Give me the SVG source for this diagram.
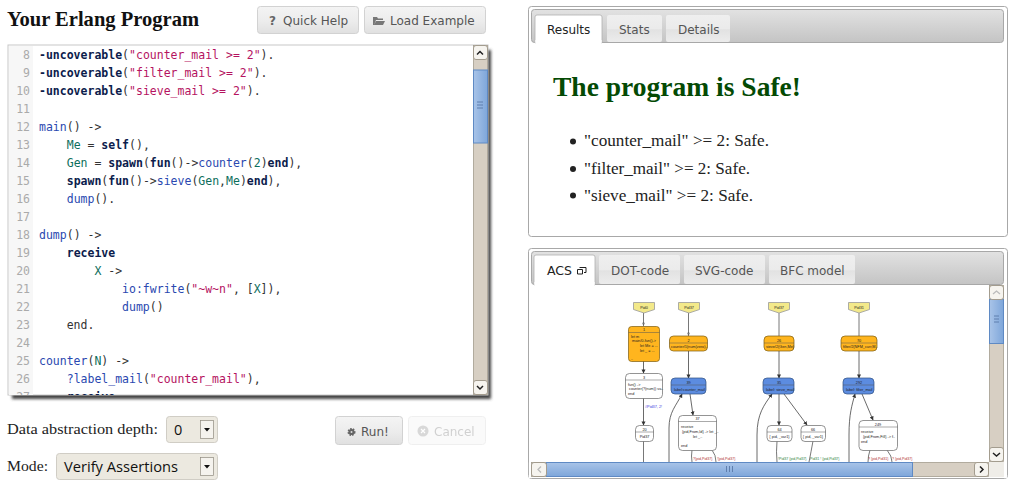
<svg xmlns="http://www.w3.org/2000/svg" width="1015" height="487" viewBox="0 0 1015 487">
<style>
text{white-space:pre}
.mono{font:11.5px "DejaVu Sans Mono",monospace;fill:#333}
.num{font:11.5px "DejaVu Sans Mono",monospace;fill:#aaa;text-anchor:end}
.k{font-weight:bold;fill:#0c1c4c}.a{fill:#2a48b0}.s{fill:#b5135f}.v{fill:#0d6e5c}
.serif{font-family:"Liberation Serif",serif;fill:#222}
.ui{font-family:"DejaVu Sans",sans-serif;font-size:12px;fill:#555}
.btn{fill:url(#btn);stroke:#d2d2d2}
.tab{fill:url(#tab);stroke:none}
.sel{fill:#ece9e0;stroke:#d0cdc5}
.track{fill:#d7cfc3;stroke:#a39c8e;stroke-width:.8}
.sb{fill:#f6f4ef;stroke:#a39c8e}
.panel{fill:#fff;stroke:#a8a8a8}
.head{fill:url(#head);stroke:#a8a8a8}
.e{fill:none;stroke:#555;stroke-width:.8}
.ea{fill:none;stroke:#444;stroke-width:.8;marker-end:url(#ah)}
.flag{fill:#f3e98a;stroke:#999;stroke-width:.8}
.o{fill:#ffb51e;stroke:#7a5a10;stroke-width:.7}
.b{fill:#5c8ce0;stroke:#30507f;stroke-width:.7}
.w{fill:#fff;stroke:#666;stroke-width:.7}
.d{stroke:#555;stroke-width:.5}
.t{font:3.8px "Liberation Sans",sans-serif;fill:#222}
.c{text-anchor:middle}
.lr{font:3.6px "Liberation Sans",sans-serif;fill:#b03030}
.lg{font:3.6px "Liberation Sans",sans-serif;fill:#2c8040}
.lb{font:3.8px "Liberation Sans",sans-serif;fill:#3a3ae0}
</style>
<defs>
<linearGradient id="btn" x1="0" y1="0" x2="0" y2="1"><stop offset="0" stop-color="#f4f4f4"/><stop offset=".55" stop-color="#ececec"/><stop offset="1" stop-color="#e0e0e0"/></linearGradient>
<linearGradient id="tab" x1="0" y1="0" x2="0" y2="1"><stop offset="0" stop-color="#efefef"/><stop offset=".5" stop-color="#ebebeb"/><stop offset=".55" stop-color="#e2e2e2"/><stop offset="1" stop-color="#ececec"/></linearGradient>
<linearGradient id="head" x1="0" y1="0" x2="0" y2="1"><stop offset="0" stop-color="#e2e2e2"/><stop offset="1" stop-color="#c4c4c4"/></linearGradient>
<linearGradient id="thv" x1="0" y1="0" x2="1" y2="0"><stop offset="0" stop-color="#a9c4e8"/><stop offset="1" stop-color="#7ea6da"/></linearGradient>
<linearGradient id="thh" x1="0" y1="0" x2="0" y2="1"><stop offset="0" stop-color="#a9c4e8"/><stop offset="1" stop-color="#7ea6da"/></linearGradient>
<filter id="blur" x="-5%" y="-5%" width="110%" height="110%"><feGaussianBlur stdDeviation="1.400"/></filter>
<clipPath id="code"><rect x="9" y="46" width="464" height="349"/></clipPath>
<marker id="ah" markerWidth="5" markerHeight="5" refX="3.6" refY="2" orient="auto" markerUnits="userSpaceOnUse"><path d="M0 0L4 2L0 4z" fill="#333"/></marker>
</defs>
<rect width="1015" height="487" fill="#fff"/>

<g id="toolbar">
<text class="serif" x="7" y="26" font-size="21" font-weight="bold" textLength="192" lengthAdjust="spacingAndGlyphs" style="fill:#111">Your Erlang Program</text>
<g id="quick-help"><rect class="btn" x="257.500" y="6.500" width="101" height="27" rx="3"/><text class="ui" x="269" y="25" font-weight="bold" style="fill:#666">?</text><text class="ui" x="283" y="25">Quick Help</text></g>
<g id="load-example"><rect class="btn" x="364.500" y="6.500" width="121" height="27" rx="3"/><path d="M373 25V17h4l1 1.500h5v1.500h-7l-2 5zM374 25l2-4h9l-2 4z" fill="#777"/><text class="ui" x="390" y="25">Load Example</text></g>
</g>

<g id="editor">
<rect x="12" y="50" width="479" height="349" fill="#444" filter="url(#blur)"/>
<rect x="8" y="45" width="480" height="350" fill="#fff" stroke="#c8c8c8"/>
<rect x="9" y="46" width="24" height="349" fill="#f7f7f7"/>
<g clip-path="url(#code)">
<text class="num" x="30" y="58.500">8</text><text class="num" x="30" y="76.500">9</text><text class="num" x="30" y="94.500">10</text><text class="num" x="30" y="112.500">11</text><text class="num" x="30" y="130.500">12</text><text class="num" x="30" y="148.500">13</text><text class="num" x="30" y="166.500">14</text><text class="num" x="30" y="184.500">15</text><text class="num" x="30" y="202.500">16</text><text class="num" x="30" y="220.500">17</text><text class="num" x="30" y="238.500">18</text><text class="num" x="30" y="256.500">19</text><text class="num" x="30" y="274.500">20</text><text class="num" x="30" y="292.500">21</text><text class="num" x="30" y="310.500">22</text><text class="num" x="30" y="328.500">23</text><text class="num" x="30" y="346.500">24</text><text class="num" x="30" y="364.500">25</text><text class="num" x="30" y="382.500">26</text><text class="num" x="30" y="400.500">27</text>
<text class="mono" x="39" y="58.500"><tspan class="k">-uncoverable</tspan>(<tspan class="s">"counter_mail &gt;= 2"</tspan>).</text>
<text class="mono" x="39" y="76.500"><tspan class="k">-uncoverable</tspan>(<tspan class="s">"filter_mail &gt;= 2"</tspan>).</text>
<text class="mono" x="39" y="94.500"><tspan class="k">-uncoverable</tspan>(<tspan class="s">"sieve_mail &gt;= 2"</tspan>).</text>
<text class="mono" x="39" y="130.500"><tspan class="a">main</tspan>() -&gt;</text>
<text class="mono" x="39" y="148.500">    <tspan class="v">Me</tspan> = <tspan class="k">self</tspan>(),</text>
<text class="mono" x="39" y="166.500">    <tspan class="v">Gen</tspan> = <tspan class="k">spawn</tspan>(<tspan class="k">fun</tspan>()-&gt;<tspan class="a">counter</tspan>(<tspan class="v">2</tspan>)<tspan class="k">end</tspan>),</text>
<text class="mono" x="39" y="184.500">    <tspan class="k">spawn</tspan>(<tspan class="k">fun</tspan>()-&gt;<tspan class="a">sieve</tspan>(<tspan class="v">Gen</tspan>,<tspan class="v">Me</tspan>)<tspan class="k">end</tspan>),</text>
<text class="mono" x="39" y="202.500">    <tspan class="a">dump</tspan>().</text>
<text class="mono" x="39" y="238.500"><tspan class="a">dump</tspan>() -&gt;</text>
<text class="mono" x="39" y="256.500">    <tspan class="k">receive</tspan></text>
<text class="mono" x="39" y="274.500">        <tspan class="v">X</tspan> -&gt;</text>
<text class="mono" x="39" y="292.500">            <tspan class="a">io:fwrite</tspan>(<tspan class="s">"~w~n"</tspan>, [<tspan class="v">X</tspan>]),</text>
<text class="mono" x="39" y="310.500">            <tspan class="a">dump</tspan>()</text>
<text class="mono" x="39" y="328.500">    end.</text>
<text class="mono" x="39" y="364.500"><tspan class="a">counter</tspan>(<tspan class="v">N</tspan>) -&gt;</text>
<text class="mono" x="39" y="382.500">    <tspan class="a">?label_mail</tspan>(<tspan class="s">"counter_mail"</tspan>),</text>
<text class="mono" x="39" y="400.500">    <tspan class="k">receive</tspan></text>
</g>
<rect class="track" x="473.500" y="45.500" width="14" height="349"/>
<rect x="473.500" y="70" width="14" height="73" fill="url(#thv)" stroke="#5f8ac4"/>
<path d="M477 102h6M477 105h6M477 108h6" stroke="#5f7fae" fill="none"/>
<rect class="sb" x="473.500" y="45.500" width="14" height="14" rx="2.500"/>
<path d="M477 54.500l3-3 3 3" fill="none" stroke="#222" stroke-width="1.500"/>
<rect class="sb" x="473.500" y="380.500" width="14" height="14" rx="2.500"/>
<path d="M477 386l3 3 3-3" fill="none" stroke="#222" stroke-width="1.500"/>
</g>

<g id="options">
<text class="serif" x="7" y="434" font-size="15.500" textLength="151" lengthAdjust="spacingAndGlyphs">Data abstraction depth:</text>
<g id="depth-select"><rect class="sel" x="166.500" y="416.500" width="51" height="26" rx="3"/><text x="174" y="435" font-family="'Open Sans',sans-serif" font-size="14.500" fill="#111">0</text><rect x="200.500" y="420.500" width="13" height="18" fill="#f5f3ee" stroke="#8f8a7f" stroke-width=".7"/><path d="M204 428h6l-3 3.500z" fill="#111"/></g>
<text class="serif" x="7" y="471" font-size="15.500" textLength="41" lengthAdjust="spacingAndGlyphs">Mode:</text>
<g id="mode-select"><rect class="sel" x="56.500" y="453.500" width="161" height="26" rx="3"/><text x="64" y="472" font-family="'Open Sans',sans-serif" font-size="14.500" fill="#111" textLength="114" lengthAdjust="spacingAndGlyphs">Verify Assertions</text><rect x="200.500" y="457.500" width="13" height="18" fill="#f5f3ee" stroke="#8f8a7f" stroke-width=".7"/><path d="M204 465h6l-3 3.500z" fill="#111"/></g>
<g id="run"><rect class="btn" x="335.500" y="416.500" width="67" height="28" rx="3"/><circle cx="351.500" cy="432" r="3" fill="#666" stroke="#666" stroke-width="2" stroke-dasharray="1.500 1"/><circle cx="351.500" cy="432" r="1" fill="#ddd"/><text class="ui" x="361" y="436" font-size="12.500">Run!</text></g>
<g id="cancel" opacity=".45"><rect x="408.500" y="416.500" width="77" height="28" rx="3" fill="#f4f4f4" stroke="#ddd"/><circle cx="423" cy="431" r="5.500" fill="#aaa"/><path d="M421 429l4 4M425 429l-4 4" stroke="#fff" stroke-width="1.200"/><text class="ui" x="434" y="436" style="fill:#999">Cancel</text></g>
</g>

<g id="results-panel">
<rect class="panel" x="528.500" y="6.500" width="479" height="230" rx="3"/>
<rect class="head" x="531.500" y="9.500" width="472" height="33" rx="3"/>
<path d="M535 43V17q0-2 2-2h63q2 0 2 2v26z" fill="#fff" stroke="#b0b0b0" stroke-width=".8"/>
<rect x="535.400" y="40" width="66.200" height="4" fill="#fff"/>
<rect class="tab" x="607" y="15" width="55" height="27" rx="2"/>
<rect class="tab" x="666" y="15" width="64" height="27" rx="2"/>
<text class="ui" x="547" y="34" style="fill:#222">Results</text>
<text class="ui" x="619" y="34">Stats</text>
<text class="ui" x="678" y="34">Details</text>
<text class="serif" x="553" y="96" font-size="27" font-weight="bold" textLength="248" lengthAdjust="spacingAndGlyphs" style="fill:#044a04">The program is Safe!</text>
<circle cx="573" cy="141.500" r="3" fill="#222"/><text class="serif" x="584" y="146" font-size="16.500" textLength="185" lengthAdjust="spacingAndGlyphs">"counter_mail" &gt;= 2: Safe.</text>
<circle cx="573" cy="169" r="3" fill="#222"/><text class="serif" x="584" y="174" font-size="16.500" textLength="166" lengthAdjust="spacingAndGlyphs">"filter_mail" &gt;= 2: Safe.</text>
<circle cx="573" cy="195.500" r="3" fill="#222"/><text class="serif" x="584" y="201" font-size="16.500" textLength="169" lengthAdjust="spacingAndGlyphs">"sieve_mail" &gt;= 2: Safe.</text>
</g>

<g id="acs-panel">
<rect class="panel" x="528.500" y="248.500" width="479" height="230" rx="3"/>
<rect class="head" x="531.500" y="251.500" width="472" height="33" rx="3"/>
<path d="M534 285V257q0-2 2-2h57q2 0 2 2v28z" fill="#fff" stroke="#b0b0b0" stroke-width=".8"/>
<rect x="534.400" y="282" width="60.200" height="4" fill="#fff"/>
<rect class="tab" x="599" y="255" width="81" height="29" rx="2"/>
<rect class="tab" x="684" y="255" width="81" height="29" rx="2"/>
<rect class="tab" x="769" y="255" width="86" height="29" rx="2"/>
<text class="ui" x="547" y="275" style="fill:#222;font-size:12.500px">ACS</text>
<path d="M579.500 267.500h6.500v5h-2M577.500 269.500h5v4.500h-5z" fill="none" stroke="#222" stroke-width="1"/>
<text class="ui" x="611" y="275">DOT-code</text>
<text class="ui" x="695" y="275">SVG-code</text>
<text class="ui" x="780" y="275">BFC model</text>
</g>

<g id="connectors">
<path class="e" d="M643.500 313V326"/><circle cx="643.500" cy="323.500" r="1" fill="none" stroke="#555" stroke-width=".5"/>
<path class="e" d="M688.500 313V336"/><circle cx="688.500" cy="333.500" r="1" fill="none" stroke="#555" stroke-width=".5"/>
<path class="e" d="M779 313V336"/><path class="e" d="M859 313V336"/>
<path class="ea" d="M643.500 361V373"/>
<path class="ea" d="M643.500 398V425"/>
<path class="e" d="M643.500 441V462"/>
<path class="ea" d="M688.500 351V378"/>
<path class="ea" d="M690 394L693 415"/>
<path class="ea" d="M669 462V428C669 412 676 406 682 394"/>
<path class="e" d="M692 450Q691 456 692 462"/><path class="e" d="M712 450Q716 455 716 462"/>
<path class="ea" d="M779 351V378"/>
<path class="ea" d="M779 394V425"/>
<path class="ea" d="M784 394L807 425"/>
<path class="ea" d="M757 462V435C757 414 764 405 772 394"/>
<path class="e" d="M777 441Q776 452 777 462"/><path class="e" d="M813 441Q811 452 809 462"/>
<path class="ea" d="M859 351V378"/>
<path class="ea" d="M862 394L873 420"/>
<path class="ea" d="M849 462V435C849 414 852 405 855 394"/>
<path class="e" d="M870 450Q868 456 868 462"/><path class="e" d="M887 450Q892 456 892 462"/>
<text class="lb" x="645" y="408">#Pid37, 2!</text>
<text class="lr" x="693" y="460">?{pid,Pid37}</text><text class="lr" x="717" y="460">!{pid,Pid37}</text>
<text class="lg" x="778" y="460">!Pid37 {pid,Pid37}</text><text class="lg" x="810" y="460">Pid31 ! {pid,Pid37}</text>
<text class="lr" x="868" y="460">? {pid,Pid31}</text><text class="lr" x="892" y="460">? {pid,Pid37}</text>
</g>

<g id="pid0"><path class="flag" d="M633.500 302.500h21v7l-10.500 3.500l-10.500-3.500z"/><text class="t c" x="644" y="308.500">Pid0</text></g>
<g id="pid37a"><path class="flag" d="M678.500 302.500h21v7l-10.500 3.500l-10.500-3.500z"/><text class="t c" x="689" y="308.500">Pid37</text></g>
<g id="pid37b"><path class="flag" d="M768.500 302.500h21v7l-10.500 3.500l-10.500-3.500z"/><text class="t c" x="779" y="308.500">Pid37</text></g>
<g id="pid31"><path class="flag" d="M848.500 302.500h21v7l-10.500 3.500l-10.500-3.500z"/><text class="t c" x="859" y="308.500">Pid31</text></g>

<g id="node-1"><rect class="o" x="628.500" y="326.500" width="31" height="35" rx="3"/><path class="d" d="M628.500 332.500h31"/><text class="t c" x="644" y="331">1</text><text class="t" x="631" y="338">let m</text><text class="t" x="632" y="342">main/0-fun()-&gt;</text><text class="t" x="640" y="347">let Me = ...</text><text class="t" x="640" y="352">let _ = ...</text><text class="t" x="631" y="360">..</text></g>
<g id="node-2"><rect class="o" x="669.500" y="336" width="38" height="15" rx="4"/><path class="d" d="M669.500 343h38"/><text class="t c" x="688.500" y="341.500">2</text><text class="t" x="671" y="348">counter/1(num(zero)..</text></g>
<g id="node-26"><rect class="o" x="764" y="336" width="30" height="15" rx="4"/><path class="d" d="M764 343h30"/><text class="t c" x="779" y="341.500">26</text><text class="t" x="766" y="348">sieve/2(Gen,Me)</text></g>
<g id="node-70"><rect class="o" x="841" y="336" width="36" height="15" rx="4"/><path class="d" d="M841 343h36"/><text class="t c" x="859" y="341.500">70</text><text class="t" x="843" y="348">filter/2(NFM_curr,M..</text></g>
<g id="node-39"><rect class="b" x="671" y="378" width="35" height="16" rx="4"/><path class="d" d="M671 385h35"/><text class="t c" x="688.500" y="383.500">39</text><text class="t" x="674" y="391">label:counter_mail</text></g>
<g id="node-35"><rect class="b" x="763" y="378" width="31" height="16" rx="4"/><path class="d" d="M763 385h31"/><text class="t c" x="779" y="383.500">35</text><text class="t" x="766" y="391">label: sieve_mail</text></g>
<g id="node-292"><rect class="b" x="843" y="378" width="31" height="16" rx="4"/><path class="d" d="M843 385h31"/><text class="t c" x="859" y="383.500">292</text><text class="t" x="846" y="391">label: filter_mail</text></g>
<g id="node-3"><rect class="w" x="625.500" y="373.500" width="37" height="25" rx="4"/><path class="d" d="M625.500 380h37"/><text class="t c" x="644" y="378.500">3</text><text class="t" x="628" y="386">fun() -&gt;</text><text class="t" x="629" y="390">counter(?(num)) va..</text><text class="t" x="628" y="395">end</text></g>
<g id="node-20"><rect class="w" x="635.500" y="425.500" width="18" height="16" rx="4"/><path class="d" d="M635.500 432h18"/><text class="t c" x="644.500" y="430.500">20</text><text class="t c" x="644.500" y="438">Pid37</text></g>
<g id="node-37"><rect class="w" x="678.500" y="415.500" width="38" height="35" rx="4"/><path class="d" d="M678.500 421.500h38"/><text class="t c" x="697.500" y="420">37</text><text class="t" x="681" y="428">receive</text><text class="t" x="682" y="433">{pid,From,Id} -&gt; let _..</text><text class="t" x="693" y="438">let _..</text><text class="t" x="681" y="447">end</text></g>
<g id="node-64"><rect class="w" x="767" y="425.500" width="25" height="16" rx="4"/><path class="d" d="M767 432h25"/><text class="t c" x="779.500" y="430.500">64</text><text class="t c" x="779.500" y="438">{ pid, _var1}</text></g>
<g id="node-66"><rect class="w" x="801" y="425.500" width="24.500" height="16" rx="4"/><path class="d" d="M801 432h24.500"/><text class="t c" x="813" y="430.500">66</text><text class="t c" x="813" y="438">{ pid, _var1}</text></g>
<g id="node-249"><rect class="w" x="859" y="420.500" width="38.500" height="30" rx="4"/><path class="d" d="M859 427h38.500"/><text class="t c" x="878" y="425.500">249</text><text class="t" x="861" y="433">receive</text><text class="t" x="863" y="438">{pid,From,Fill} -&gt; f..</text><text class="t" x="861" y="443">end</text></g>

<g id="acs-scrollbars">
<rect x="528.900" y="462.500" width="478" height="15.500" fill="#fff" stroke="none"/>
<rect x="989" y="462" width="15" height="15" fill="#efede8"/>
<rect class="track" x="989.500" y="285.500" width="14" height="176"/>
<rect x="989.500" y="299.500" width="14" height="44" fill="url(#thv)" stroke="#5f8ac4"/>
<path d="M994 316h5M994 319h5M994 322h5" stroke="#5f7fae" fill="none"/>
<rect class="sb" x="989.500" y="285.500" width="14" height="14" rx="2.500"/>
<path d="M993 294l3.500-3 3.500 3" fill="none" stroke="#bbb" stroke-width="1.300"/>
<rect class="sb" x="989.500" y="447.500" width="14" height="14" rx="2.500"/>
<path d="M993 453l3.500 3 3.500-3" fill="none" stroke="#222" stroke-width="1.500"/>
<rect class="track" x="531.500" y="462.500" width="457" height="14"/>
<rect x="546.500" y="462.500" width="366" height="14" fill="url(#thh)" stroke="#5f8ac4"/>
<path d="M726.500 466v6M729.500 466v6M732.500 466v6" stroke="#5f7fae" fill="none"/>
<rect class="sb" x="531.500" y="462.500" width="15" height="14" rx="2.500"/>
<path d="M541 466.500l-3 3 3 3" fill="none" stroke="#bbb" stroke-width="1.300"/>
<rect class="sb" x="974.500" y="462.500" width="14" height="14" rx="2.500"/>
<path d="M980 466.500l3 3-3 3" fill="none" stroke="#222" stroke-width="1.500"/>
</g>
</svg>
